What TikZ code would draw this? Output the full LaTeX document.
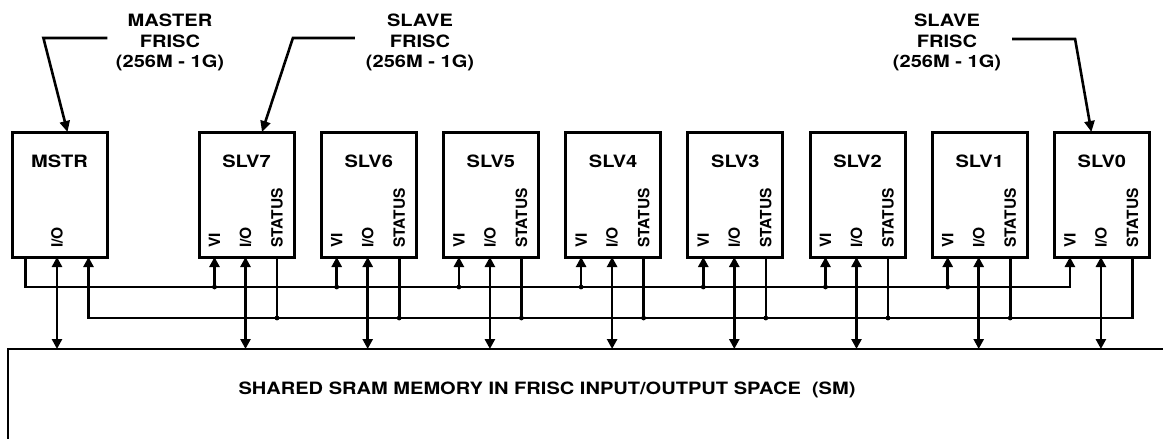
\documentclass[tikz,border=0pt]{standalone}
\usepackage{fontspec}
\setmainfont{TeX Gyre Heros}[FakeStretch=1.18]
\newfontfamily\pinfont{TeX Gyre Heros}
\usetikzlibrary{arrows.meta,positioning}

\begin{document}
\begin{tikzpicture}[
        x=1pt, y=-1pt,
        font=\bfseries\fontsize{17}{20.5}\selectfont,
        box/.style={draw, line width=3pt, outer sep=0pt, minimum width=95pt, minimum height=125pt, inner ysep=23pt, text height=12.5pt, text depth=66.5pt},
        pinlbl/.style={rotate=90, anchor=west, inner sep=0pt, font=\pinfont\bfseries\fontsize{15.5}{15.5}\selectfont},
        title/.style={align=center},
        bus/.style={line width=2.6pt},
        arr/.style={bus, -{Triangle[length=10pt, width=10pt]}},
        dbl/.style={bus, {Triangle[length=10pt, width=10pt]}-{Triangle[length=10pt, width=10pt]}},
        ptr/.style={line width=2.6pt, -{Triangle[length=11pt, width=10pt]}},
        node distance=27.2pt
    ]
        \useasboundingbox (0,0) rectangle (1163,439);
        \clip (0,0) rectangle (1163,439);
        % processors
        \node[box, anchor=north west] (mstr) at (12,132) {MSTR};
        \node[box, anchor=north west] (slv7) at (199,132) {SLV7};
        \node[box, right=of slv7] (slv6) {SLV6};
        \node[box, right=of slv6] (slv5) {SLV5};
        \node[box, right=of slv5] (slv4) {SLV4};
        \node[box, right=of slv4] (slv3) {SLV3};
        \node[box, right=of slv3] (slv2) {SLV2};
        \node[box, right=of slv2] (slv1) {SLV1};
        \node[box, right=of slv1] (slv0) {SLV0};
        % shared memory
        \node[draw, line width=2.6pt, outer sep=0pt, minimum width=1200pt, minimum height=140pt, anchor=north west] (mem) at (8,349) {};
        \node (memtxt) at (547,390) {SHARED SRAM MEMORY IN FRISC INPUT/OUTPUT SPACE\ \ (SM)};
        % labels
        \node[title] (mastertxt) at (170,42.5) {MASTER\\FRISC\\(256M - 1G)};
        \node[title] (slv7txt) at (420,42.5) {SLAVE\\FRISC\\(256M - 1G)};
        \node[title] (slv0txt) at (947,42.5) {SLAVE\\FRISC\\(256M - 1G)};
        \draw[ptr] ([xshift=-5pt, yshift=4.5pt]mastertxt.west) -- ++(-64,0) -- ([xshift=8pt]mstr.north);
        \draw[ptr] ([xshift=-7.5pt, yshift=4.5pt]slv7txt.west) -- ++(-62,0) -- ([xshift=15.5pt]slv7.north);
        \draw[ptr] ([xshift=7.5pt, yshift=3.5pt]slv0txt.east) -- ++(63,0) -- ([xshift=-10.5pt]slv0.north);
        % pins
        \coordinate (vibus) at (0,287);
        \coordinate (stbus) at (0,318);
        \coordinate (mstrvi) at ([xshift=13.5pt]mstr.south west);
        \coordinate (mstrst) at ([xshift=76.5pt]mstr.south west);
        \node[pinlbl] (mstrio) at ([xshift=45pt, yshift=9pt]mstr.south west) {I/O};
        \draw[dbl] (mstrio |- mstr.south) -- (mstrio |- mem.north);
        \foreach \slv in {slv7,slv6,slv5,slv4,slv3,slv2,slv1,slv0} {
            \node[pinlbl] (\slv vi) at ([xshift=15.5pt, yshift=9pt]\slv.south west) {VI};
            \node[pinlbl] (\slv io) at ([xshift=46.5pt, yshift=9pt]\slv.south west) {I/O};
            \node[pinlbl] (\slv st) at ([xshift=78pt, yshift=9pt]\slv.south west) {STATUS};
            \draw[dbl] (\slv io |- \slv.south) -- (\slv io |- mem.north);
        }
        % VI and STATUS buses
        \draw[arr] (mstrvi) |- (slv0vi |- vibus) -- (slv0vi |- slv0.south);
        \draw[arr] (slv0st |- slv0.south) |- (mstrst |- stbus) -- (mstrst);
        \foreach \slv in {slv7,slv6,slv5,slv4,slv3,slv2,slv1} {
            \draw[arr] (\slv vi |- vibus) -- (\slv vi |- \slv.south);
            \fill (\slv vi |- vibus) circle (2.4pt);
            \draw[bus] (\slv st |- \slv.south) -- (\slv st |- stbus);
            \fill (\slv st |- stbus) circle (2.4pt);
        }
    \end{tikzpicture}
\end{document}
